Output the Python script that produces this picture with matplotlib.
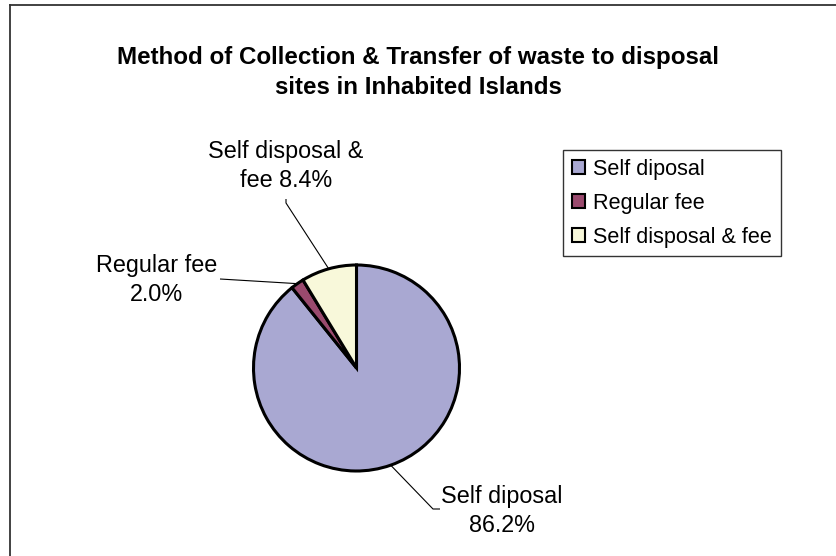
import numpy as np
import matplotlib.pyplot as plt

# canvas size in pixels (dpi 100)
W, H = 837, 556

categories = ['Self diposal', 'Regular fee', 'Self disposal & fee']
shares = [86.2, 2.0, 8.4]
slice_labels = ['Self diposal\n86.2%', 'Regular fee\n2.0%', 'Self disposal &\nfee 8.4%']
colors = ['#A9A8D2', '#9A4A6E', '#F8F8DA']

plt.rcParams['font.family'] = ['Liberation Sans', 'DejaVu Sans']

fig = plt.figure(figsize=(W / 100, H / 100), dpi=100)
ax = fig.add_axes([0, 0, 1, 1])

# pie centre / radius in pixel coordinates (y measured up)
cx, cy, r = 356.5, H - 368, 103

wedges, _ = ax.pie(shares, colors=colors, startangle=90, counterclock=False,
                   center=(cx, cy), radius=r, normalize=True,
                   wedgeprops=dict(edgecolor='black', linewidth=2.2))
ax.set_xlim(0, W)
ax.set_ylim(0, H)
ax.set_aspect('auto')
ax.axis('off')

# label anchor (text centre) and elbow points of the leader lines, image coords
label_pos = [(502, 511), (157, 280), (286, 166)]
elbows = [[(440, 509), (433, 509)], [(220, 279)], [(286, 199), (286, 203)]]

for w, txt, (lx, ly), elb in zip(wedges, slice_labels, label_pos, elbows):
    mid = np.deg2rad((w.theta1 + w.theta2) / 2)
    ex, ey = cx + r * np.cos(mid), cy + r * np.sin(mid)
    xs = [p[0] for p in elb] + [ex]
    ys = [H - p[1] for p in elb] + [ey]
    ax.plot(xs, ys, color='black', lw=0.8, solid_capstyle='butt')
    ax.text(lx, H - ly, txt, ha='center', va='center', fontsize=16.8,
            linespacing=1.38)

fig.text(418.5 / W, 1 - 72.5 / H,
         'Method of Collection & Transfer of waste to disposal\nsites in Inhabited Islands',
         ha='center', va='center', fontsize=17.4, fontweight='bold', linespacing=1.42)

leg = ax.legend(wedges, categories, loc='upper left',
                bbox_to_anchor=(563 / W, 1 - 150 / H), bbox_transform=fig.transFigure,
                fontsize=15.6, frameon=True, fancybox=False, shadow=False,
                handlelength=0.6, handleheight=0.6, handletextpad=0.4,
                labelspacing=0.6, borderpad=0.4, borderaxespad=0)
leg.get_frame().set_edgecolor('black')
leg.get_frame().set_linewidth(1.0)
for h in leg.legend_handles:
    h.set_linewidth(1.5)

# outer chart border (left and top edges)
fig.add_artist(plt.Line2D([10.5 / W, 10.5 / W], [0, 1 - 4.5 / H], color='#333333', lw=1.3))
fig.add_artist(plt.Line2D([10.5 / W, 1], [1 - 4.5 / H, 1 - 4.5 / H], color='#333333', lw=1.3))

fig.savefig('out.png', dpi=100)
